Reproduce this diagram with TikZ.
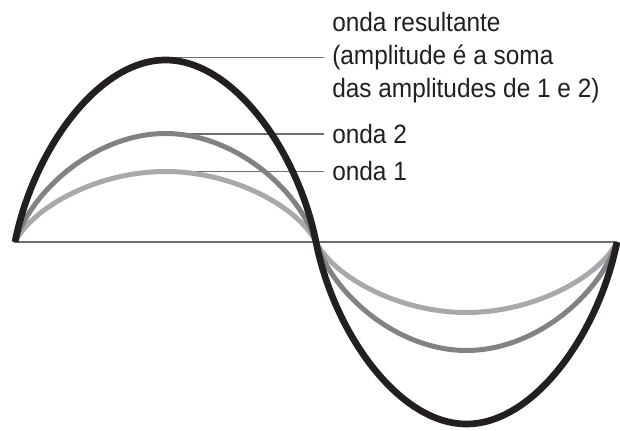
\documentclass[tikz,border=0pt]{standalone}
\usepackage{fontspec}
\newfontfamily\lblfont[FakeStretch=0.92]{Liberation Sans}
\definecolor{inkblack}{HTML}{231F20}
\definecolor{wavetwo}{HTML}{808285}
\definecolor{waveone}{HTML}{A7A9AC}
\definecolor{leadgray}{HTML}{6D6E71}
\tikzset{
  axisline/.style={draw=leadgray, line width=1.1pt},
  leaderline/.style={draw=leadgray, line width=1.1pt},
  resline/.style={draw=inkblack, line width=5pt},
  twoline/.style={draw=wavetwo, line width=3.75pt},
  oneline/.style={draw=waveone, line width=3.75pt},
  lbl/.style={inner sep=0pt, anchor=base west, align=left, text=inkblack,
    font=\lblfont\fontsize{19.9pt}{24.75pt}\selectfont}
}
% one full period of the wave, amplitude #1 (in px)
\newcommand{\wavepath}[1]{%
  (15,242)
  .. controls (33.06,{242-0.5*#1}) and (97.775,{242-#1}) .. (165.5,{242-#1})
  .. controls (233.225,{242-#1}) and (297.94,{242-0.5*#1}) .. (316,242)
  .. controls (334.06,{242+0.5*#1}) and (398.775,{242+#1}) .. (466.5,{242+#1})
  .. controls (534.225,{242+#1}) and (598.94,{242+0.5*#1}) .. (617,242)}
\begin{document}
\begin{tikzpicture}[x=0.75pt, y=-0.75pt]
\useasboundingbox (0,0) rectangle (620,431);
% axis
\coordinate (axL) at (14,242);
\coordinate (axR) at (617,242);
\draw[axisline] (axL) -- (axR);
% peaks and leader ends
\coordinate (pkres) at (165.5,57.5);
\coordinate (pktwo) at (165.5,134);
\coordinate (pkone) at (165.5,171.7);
\coordinate (ldres) at (324,57.5);
\coordinate (ldtwo) at (324,134);
\coordinate (ldone) at (324,171.7);
\draw[leaderline] (pkres) -- (ldres);
\draw[leaderline] (pktwo) -- (ldtwo);
\draw[leaderline] (pkone) -- (ldone);
% waves
\draw[oneline] \wavepath{70.5};
\draw[twoline] \wavepath{108.5};
\draw[resline] \wavepath{182};
% labels
\node[lbl] (lres) at (332,97.7) {onda resultante\\(amplitude é a soma\\das amplitudes de 1 e 2)};
\node[lbl] (ltwo) at (332,143.3) {onda 2};
\node[lbl] (lone) at (332,180) {onda 1};
\end{tikzpicture}
\end{document}
